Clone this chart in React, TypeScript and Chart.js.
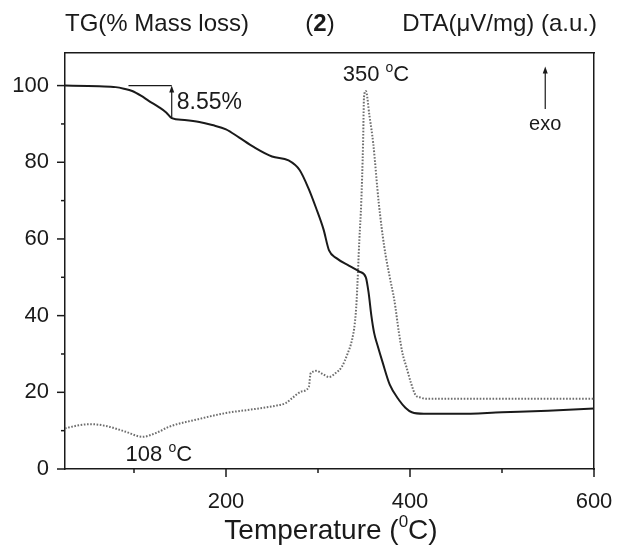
import React, { useEffect, useRef } from "react";
import { Chart, registerables } from "chart.js";

Chart.register(...registerables);

// ---- data ----
const tgTemp = [25, 50, 62, 80, 89, 98, 108, 116, 127, 135, 141, 155, 171, 185, 200, 214, 230, 250, 268, 280, 290, 298, 306, 312, 320, 334, 345, 352, 355, 358, 361, 365, 370, 378, 388, 395, 402, 415, 453, 500, 550, 600];
const tgMass = [100, 99.9, 99.8, 99.6, 99.2, 98.6, 97.3, 96, 94.4, 93, 91.5, 91, 90.5, 89.7, 88.6, 86.5, 84, 81.5, 80.5, 78, 73, 68, 62.5, 57, 55, 53, 51.5, 50, 46, 40, 35.5, 32, 28, 22, 18, 16, 14.8, 14.4, 14.4, 14.8, 15.2, 15.8];

const dtaTemp = [25, 40, 53, 70, 90, 109, 125, 138, 170, 200, 230, 254, 265, 272, 282, 290, 292, 295, 298, 305, 312, 319, 326, 332, 337, 340, 342, 345, 347, 349, 350, 352, 356, 360, 366, 372, 378, 383, 388, 392, 396, 401, 406, 412, 417, 425, 450, 500, 550, 600];
const dtaVal = [10.6, 11.4, 11.7, 11.2, 9.8, 8.4, 9.5, 11, 13, 14.6, 15.6, 16.5, 17.2, 18.5, 20.2, 21.4, 25, 25.4, 25.6, 24.8, 24, 25, 26.7, 30, 33.7, 38, 44, 60, 69.5, 85, 97, 98.6, 92, 85, 69.5, 58, 50, 44, 35.5, 30, 26.7, 22.5, 19.3, 18.6, 18.3, 18.3, 18.3, 18.3, 18.3, 18.3];

const xMajorTicks = [200, 400, 600];
const xMinorTicks = [100, 300, 500];
const yMajorTicks = [0, 20, 40, 60, 80, 100];
const yMinorTicks = [10, 30, 50, 70, 90];

const FONT = "'Liberation Sans', Arial, sans-serif";
const INK = "#1a1a1a";

type Part = { t: string; sup?: boolean; bold?: boolean };

function drawRich(ctx: CanvasRenderingContext2D, parts: Part[], x: number, y: number, size: number, align: "left" | "center" | "right") {
  const fontFor = (p: Part) => `${p.bold ? "bold " : ""}${p.sup ? Math.round(size * 0.62) : size}px ${FONT}`;
  let total = 0;
  const widths = parts.map((p) => {
    ctx.font = fontFor(p);
    const w = ctx.measureText(p.t).width;
    total += w;
    return w;
  });
  let cx = align === "left" ? x : align === "center" ? x - total / 2 : x - total;
  ctx.textBaseline = "alphabetic";
  ctx.textAlign = "left";
  parts.forEach((p, i) => {
    ctx.font = fontFor(p);
    ctx.fillText(p.t, cx, p.sup ? y - size * 0.42 : y);
    cx += widths[i];
  });
}

function arrowUp(ctx: CanvasRenderingContext2D, x: number, y0: number, y1: number) {
  ctx.beginPath();
  ctx.moveTo(x, y0);
  ctx.lineTo(x, y1 + 4);
  ctx.stroke();
  ctx.beginPath();
  ctx.moveTo(x, y1);
  ctx.lineTo(x - 2.5, y1 + 7);
  ctx.lineTo(x + 2.5, y1 + 7);
  ctx.closePath();
  ctx.fill();
}

const decorPlugin = {
  id: "decor",
  afterDraw(chart: any) {
    const ctx: CanvasRenderingContext2D = chart.ctx;
    const xs = chart.scales.x;
    const ys = chart.scales.y;
    const X = (v: number) => xs.getPixelForValue(v);
    const Y = (v: number) => ys.getPixelForValue(v);
    const area = chart.chartArea;
    ctx.save();
    ctx.strokeStyle = INK;
    ctx.fillStyle = INK;
    ctx.lineWidth = 1.5;
    // tick marks
    xMajorTicks.forEach((v) => {
      ctx.beginPath();
      ctx.moveTo(X(v), area.bottom);
      ctx.lineTo(X(v), area.bottom + 8);
      ctx.stroke();
    });
    xMinorTicks.forEach((v) => {
      ctx.beginPath();
      ctx.moveTo(X(v), area.bottom);
      ctx.lineTo(X(v), area.bottom + 4);
      ctx.stroke();
    });
    yMajorTicks.forEach((v) => {
      ctx.beginPath();
      ctx.moveTo(area.left, Y(v));
      ctx.lineTo(area.left - 8, Y(v));
      ctx.stroke();
    });
    yMinorTicks.forEach((v) => {
      ctx.beginPath();
      ctx.moveTo(area.left, Y(v));
      ctx.lineTo(area.left - 4, Y(v));
      ctx.stroke();
    });

    // header
    drawRich(ctx, [{ t: "TG(% Mass loss)" }], 65, 31, 24, "left");
    drawRich(ctx, [{ t: "(" }, { t: "2", bold: true }, { t: ")" }], 320, 31, 24, "center");
    drawRich(ctx, [{ t: "DTA(\u03bcV/mg) (a.u.)" }], 597, 31, 24, "right");

    // x axis title
    drawRich(ctx, [{ t: "Temperature (" }, { t: "0", sup: true }, { t: "C)" }], 331, 539, 28, "center");

    // 8.55% annotation
    ctx.lineWidth = 1.2;
    ctx.beginPath();
    ctx.moveTo(X(94), Y(100));
    ctx.lineTo(X(141), Y(100));
    ctx.stroke();
    arrowUp(ctx, X(141), Y(91.4), Y(100));
    drawRich(ctx, [{ t: "8.55%" }], X(141) + 5, Y(94), 23, "left");

    // peak labels
    drawRich(ctx, [{ t: "350 " }, { t: "o", sup: true }, { t: "C" }], X(363), Y(101.2), 22, "center");
    drawRich(ctx, [{ t: "108 " }, { t: "o", sup: true }, { t: "C" }], X(127), Y(2), 22, "center");

    // exo arrow
    arrowUp(ctx, X(547), Y(93.9), Y(105));
    drawRich(ctx, [{ t: "exo" }], X(547), Y(88.3), 20, "center");
    ctx.restore();
  },
};

export default function App() {
  const ref = useRef<HTMLCanvasElement | null>(null);
  useEffect(() => {
    document.body.style.margin = "0";
    const canvas = ref.current;
    if (!canvas) return;
    const chart = new Chart(canvas, {
      type: "line",
      data: {
        datasets: [
          {
            label: "TG",
            data: tgTemp.map((x, i) => ({ x, y: tgMass[i] })),
            borderColor: INK,
            borderWidth: 2,
            pointRadius: 0,
            fill: false,
            cubicInterpolationMode: "monotone",
          },
          {
            label: "DTA",
            data: dtaTemp.map((x, i) => ({ x, y: dtaVal[i] })),
            borderColor: "#6e6e6e",
            borderWidth: 2,
            borderDash: [1.6, 1.6],
            pointRadius: 0,
            fill: false,
            cubicInterpolationMode: "monotone",
          },
        ],
      },
      options: {
        animation: false,
        responsive: false,
        devicePixelRatio: 1,
        layout: { padding: 0 },
        plugins: { legend: { display: false }, tooltip: { enabled: false }, title: { display: false } },
        scales: {
          x: {
            type: "linear",
            position: "bottom",
            min: 25,
            max: 600,
            grid: { display: false },
            border: { display: true, color: INK, width: 1.5 },
            ticks: { color: INK, font: { family: FONT, size: 22 }, padding: 12, maxRotation: 0 },
            afterBuildTicks: (s: any) => {
              s.ticks = xMajorTicks.map((v) => ({ value: v }));
            },
            afterFit: (s: any) => {
              s.height = 82;
              s.paddingLeft = 0;
              s.paddingRight = 0;
            },
          },
          x2: {
            type: "linear",
            position: "top",
            min: 25,
            max: 600,
            grid: { display: false },
            border: { display: true, color: INK, width: 1.5 },
            ticks: { display: false },
            afterFit: (s: any) => {
              s.height = 53;
              s.paddingLeft = 0;
              s.paddingRight = 0;
            },
          },
          y: {
            type: "linear",
            position: "left",
            min: 0,
            max: 108.5,
            grid: { display: false },
            border: { display: true, color: INK, width: 1.5 },
            ticks: { color: INK, font: { family: FONT, size: 22 }, padding: 8 },
            afterBuildTicks: (s: any) => {
              s.ticks = yMajorTicks.map((v) => ({ value: v }));
            },
            afterFit: (s: any) => {
              s.width = 65;
              s.paddingTop = 0;
              s.paddingBottom = 0;
            },
          },
          y2: {
            type: "linear",
            position: "right",
            min: 0,
            max: 108.5,
            grid: { display: false },
            border: { display: true, color: INK, width: 1.5 },
            ticks: { display: false },
            afterFit: (s: any) => {
              s.width = 23;
              s.paddingTop = 0;
              s.paddingBottom = 0;
            },
          },
        },
      },
      plugins: [decorPlugin],
    } as any);
    return () => chart.destroy();
  }, []);
  return (
    <div style={{ width: 617, height: 551, background: "#fff" }}>
      <canvas ref={ref} width={617} height={551} style={{ display: "block" }} />
    </div>
  );
}
